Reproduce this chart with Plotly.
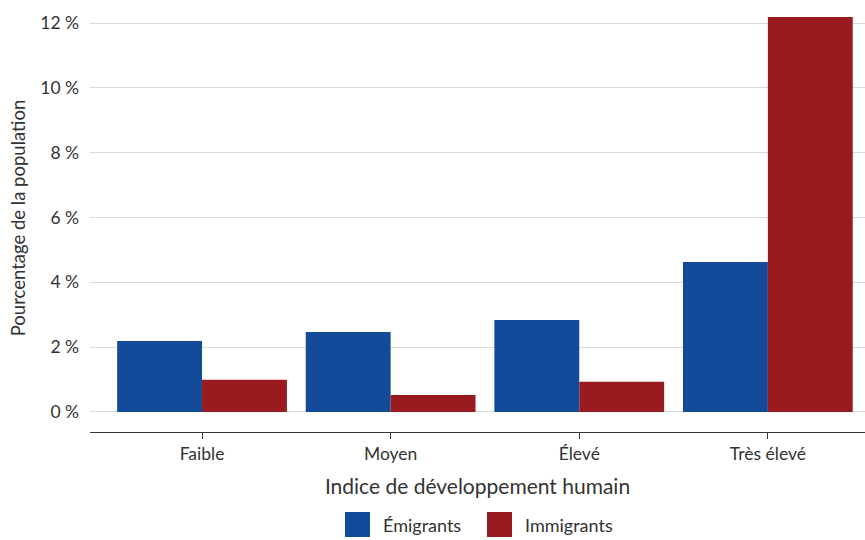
import plotly.graph_objects as go

# Population share of emigrants and immigrants by human development level
categories = ["Faible", "Moyen", "Élevé", "Très élevé"]
emigrants = [2.19, 2.47, 2.84, 4.63]
immigrants = [0.99, 0.52, 0.93, 12.19]
y_ticks = [0, 2, 4, 6, 8, 10, 12]
y_tick_labels = [f"{v}\u202f%" for v in y_ticks]

BLUE = "#134B9A"
RED = "#9A1B1F"
FONT = "Lato, 'Open Sans', sans-serif"
TEXT = "#333333"

fig = go.Figure()
fig.add_trace(go.Bar(name="Émigrants", x=categories, y=emigrants,
                     marker=dict(color=BLUE, line=dict(width=0)), showlegend=False))
fig.add_trace(go.Bar(name="Immigrants", x=categories, y=immigrants,
                     marker=dict(color=RED, line=dict(width=0)), showlegend=False))

# Plot area geometry (pixels) used to place the hand-built legend
L, R, T, B = 90, 865, 4, 432
W, H = 865, 540


def px(x):
    return (x - L) / (R - L)


def py(y):
    return (B - y) / (B - T)


legend_items = [("Émigrants", BLUE, 345), ("Immigrants", RED, 487)]
shapes = []
annotations = []
for label, color, x0 in legend_items:
    shapes.append(dict(type="rect", xref="paper", yref="paper",
                       x0=px(x0), x1=px(x0 + 25), y0=py(537), y1=py(512),
                       fillcolor=color, line=dict(width=0)))
    annotations.append(dict(text=label, xref="paper", yref="paper",
                            x=px(x0 + 36), y=py(525), xanchor="left", yanchor="middle",
                            showarrow=False, font=dict(size=18, color=TEXT, family=FONT)))

fig.update_layout(
    width=W, height=H,
    margin=dict(l=L, r=W - R, t=T, b=H - B),
    paper_bgcolor="white", plot_bgcolor="white",
    barmode="group", bargap=0.1, bargroupgap=0,
    font=dict(family=FONT, color=TEXT, size=17),
    shapes=shapes, annotations=annotations,
    xaxis=dict(
        range=[-0.594, 3.515],
        showline=True, linecolor=TEXT, linewidth=1.3,
        ticks="outside", ticklen=6, tickcolor=TEXT, tickwidth=1,
        tickfont=dict(size=17.5, color=TEXT),
        title=dict(text="Indice de développement humain", font=dict(size=21, color=TEXT), standoff=16),
        showgrid=False, zeroline=False,
    ),
    yaxis=dict(
        range=[-0.62, 12.59],
        tickvals=y_ticks, ticktext=y_tick_labels,
        tickfont=dict(size=17.5, color=TEXT),
        showgrid=True, gridcolor="#d9d9d9", gridwidth=1,
        zeroline=False, showline=False, ticks="", ticklabelstandoff=10,
        title=dict(text="Pourcentage de la population", font=dict(size=18.5, color=TEXT), standoff=9),
    ),
)

fig.write_html("out.html")
